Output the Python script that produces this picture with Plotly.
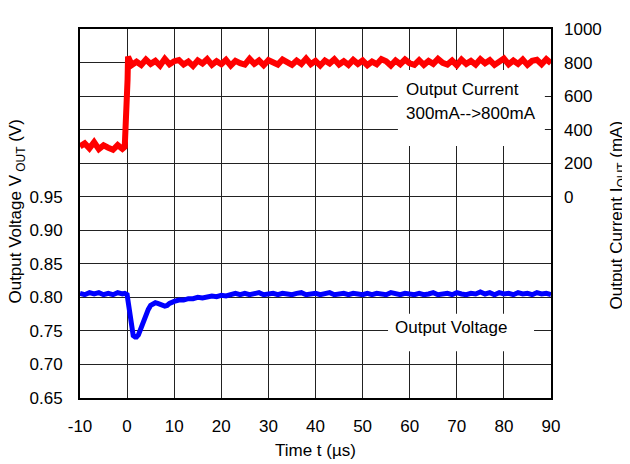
import plotly.graph_objects as go

# time base (µs)
t_cur = [-10, -9, -8, -7, -6, -5, -4, -3, -2, -1, -0.5, -0.3, -0.15, 0, 0.1, 0.2, 0.6, 1] + list(range(2, 91))
i_out = [300, 318, 288, 325, 284, 306, 292, 280, 308, 286, 298,
         400, 530, 560, 700, 835, 805, 785,
         805, 785, 818, 792, 810, 782, 822, 790, 808, 815,
         788, 806, 780, 812, 794, 820, 786, 808, 790, 816,
         782, 810, 796, 788, 822, 792, 812, 784, 814, 796,
         788, 818, 800, 786, 812, 792, 824, 790, 810, 782,
         812, 794, 820, 788, 808, 786, 816, 792, 812, 784,
         806, 790, 820, 808, 782, 812, 790, 818, 796, 786,
         814, 786, 810, 792, 822, 798, 788, 812, 784, 818,
         792, 810, 788, 820, 796, 814, 786, 808, 824, 790,
         812, 792, 818, 786, 810, 816, 790, 820, 796]

t_vol = ([-10, -9, -8, -7, -6, -5, -4, -3, -2, -1, -0.5, 0,
          0.3, 0.6, 1.0, 1.3, 1.7, 2.0, 2.4, 2.8, 3.2, 3.6, 4.0, 4.5, 5.0, 5.5,
          6.0, 6.5, 7.0, 7.5, 8.0, 8.5, 9, 10, 11, 12, 13, 14, 15, 16, 17, 18, 19, 20, 21]
         + list(range(22, 91)))
v_out = [0.806, 0.804, 0.807, 0.805, 0.807, 0.804, 0.806, 0.804, 0.807, 0.805, 0.806, 0.804,
         0.790, 0.775, 0.752, 0.743, 0.741, 0.741, 0.744, 0.752, 0.761, 0.768, 0.774, 0.782, 0.788, 0.791,
         0.792, 0.791, 0.789, 0.788, 0.787, 0.788, 0.791, 0.794, 0.796, 0.796, 0.798, 0.798, 0.800,
         0.799, 0.801, 0.802, 0.801, 0.803, 0.802,
         0.804, 0.806, 0.804, 0.806, 0.804, 0.805, 0.807, 0.804, 0.805, 0.806,
         0.804, 0.806, 0.805, 0.804, 0.806, 0.807, 0.804, 0.805, 0.806, 0.804,
         0.805, 0.807, 0.804, 0.805, 0.806, 0.804, 0.806, 0.805, 0.804, 0.806,
         0.804, 0.806, 0.805, 0.804, 0.807, 0.805, 0.804, 0.806, 0.805, 0.804,
         0.806, 0.804, 0.805, 0.807, 0.804, 0.805, 0.806, 0.804, 0.807, 0.805,
         0.804, 0.806, 0.805, 0.808, 0.805, 0.807, 0.804, 0.807, 0.805, 0.806,
         0.804, 0.807, 0.805, 0.806, 0.804, 0.807, 0.805, 0.806, 0.804]

x_ticks = [-10, 0, 10, 20, 30, 40, 50, 60, 70, 80, 90]
x_labels = ["-10", "0", "10", "20", "30", "40", "50", "60", "70", "80", "90"]
v_ticks = [0.65, 0.70, 0.75, 0.80, 0.85, 0.90, 0.95, 1.00, 1.05, 1.10, 1.15, 1.20]
v_labels = ["0.65", "0.70", "0.75", "0.80", "0.85", "0.90", "0.95", "", "", "", "", ""]
i_ticks = [0, 200, 400, 600, 800, 1000]

FONT = "Arial, Liberation Sans, sans-serif"
FS = 17

fig = go.Figure()
fig.add_trace(go.Scatter(x=t_vol, y=v_out, mode="lines",
                         line=dict(color="#0000FF", width=5), yaxis="y"))
fig.add_trace(go.Scatter(x=t_cur, y=i_out, mode="lines",
                         line=dict(color="#FF0000", width=6), yaxis="y2"))

# page body has an 8px margin, so the figure is drawn 8px smaller
fig.update_layout(
    width=622, height=456,
    margin=dict(l=72, r=79, t=12, b=66),
    paper_bgcolor="white", plot_bgcolor="white",
    showlegend=False,
    font=dict(family=FONT, size=FS, color="black"),
    xaxis=dict(range=[-10, 90], tickvals=x_ticks, ticktext=x_labels,
               showgrid=True, gridcolor="#222", gridwidth=1,
               showline=True, linecolor="black", linewidth=2, mirror=True,
               zeroline=False, ticklabelstandoff=12),
    yaxis=dict(range=[0.65, 1.2], tickvals=v_ticks, ticktext=v_labels,
               showgrid=True, gridcolor="#222", gridwidth=1,
               showline=True, linecolor="black", linewidth=2, mirror=True,
               zeroline=False, ticklabelstandoff=12),
    yaxis2=dict(range=[-1200, 1000], tickvals=i_ticks, overlaying="y", side="right",
                showgrid=False, showline=False, zeroline=False, ticklabelstandoff=12),
)

# white label boxes over the grid
fig.add_shape(type="rect", xref="paper", yref="paper", x0=0.675, x1=0.987, y0=0.683, y1=0.889,
              fillcolor="white", line=dict(width=0), layer="above")
fig.add_shape(type="rect", xref="paper", yref="paper", x0=0.654, x1=0.964, y0=0.127, y1=0.228,
              fillcolor="white", line=dict(width=0), layer="above")

fig.add_annotation(text="Output Current", xref="paper", yref="paper", x=0.688, y=0.836,
                   xanchor="left", yanchor="middle", showarrow=False)
fig.add_annotation(text="300mA-->800mA", xref="paper", yref="paper", x=0.688, y=0.772,
                   xanchor="left", yanchor="middle", showarrow=False)
fig.add_annotation(text="Output Voltage", xref="paper", yref="paper", x=0.665, y=0.190,
                   xanchor="left", yanchor="middle", showarrow=False)

# axis titles
fig.add_annotation(text="Time t (µs)", xref="paper", yref="paper", x=0.5, y=-0.143,
                   xanchor="center", yanchor="middle", showarrow=False)
fig.add_annotation(text="Output Voltage V<sub> OUT</sub> (V)", xref="paper", yref="paper",
                   x=-0.134, y=0.505, textangle=-90, xanchor="center", yanchor="middle",
                   showarrow=False)
fig.add_annotation(text="Output Current I<sub>OUT</sub> (mA)", xref="paper", yref="paper",
                   x=1.142, y=0.497, textangle=-90, xanchor="center", yanchor="middle",
                   showarrow=False)

fig.write_html("out.html")
